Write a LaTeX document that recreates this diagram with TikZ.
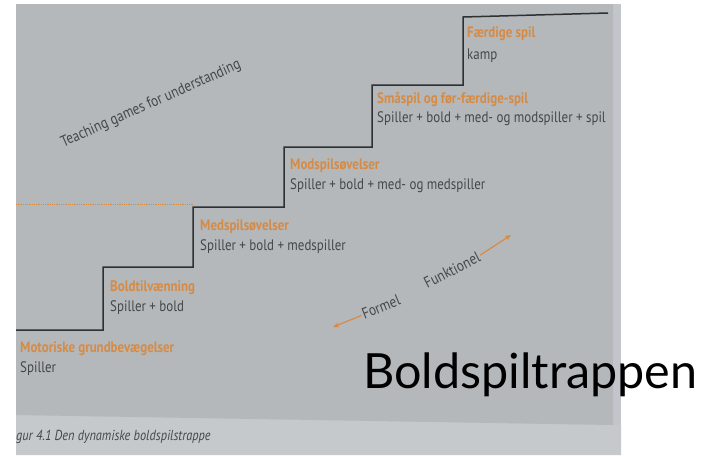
\documentclass[tikz,border=0pt]{standalone}
\usepackage{fontspec}
\setmainfont{PT Sans}[FakeStretch=0.85]
\newfontfamily\titlefont{Lato}
\usetikzlibrary{arrows.meta}
\definecolor{bgmain}{HTML}{B4B8BB}
\definecolor{bgstrip}{HTML}{C6C9CC}
\definecolor{bgedge}{HTML}{C2C5C9}
\definecolor{stepor}{HTML}{D68B45}
\definecolor{steptx}{HTML}{45484B}
\definecolor{stairln}{HTML}{2E3032}
\tikzset{
  headtx/.style={anchor=base west, inner sep=0pt, text=stepor, font=\fontsize{15.2}{17}\selectfont\bfseries},
  subtx/.style={anchor=base west, inner sep=0pt, text=steptx, font=\fontsize{15.2}{17}\selectfont},
  slanttx/.style={inner sep=0pt, text=steptx, font=\fontsize{15.6}{17}\selectfont},
  orarrow/.style={draw=stepor, line width=1.2pt, -{Stealth[length=6pt,width=5pt]}},
}
\begin{document}
\begin{tikzpicture}[x=1pt,y=-1pt]
\useasboundingbox (0,0) rectangle (711,455);
\fill[white] (0,0) rectangle (711,455);
% photo background
\fill[bgedge] (16,4) rectangle (621,455);
\fill[bgstrip] (16,415) -- (613,425) -- (621,425) -- (621,455) -- (16,455) -- cycle;
\fill[bgmain] (16,4) -- (613,4) -- (613,425) -- (16,415) -- cycle;
% dotted line
\draw[stepor, densely dotted, line width=0.8pt] (16,204) -- (193,204);
% staircase
\coordinate (s0) at (16,330);
\coordinate (s1) at (103,330);
\coordinate (s2) at (103,267);
\coordinate (s3) at (193,267);
\coordinate (s4) at (193,207);
\coordinate (s5) at (284,207);
\coordinate (s6) at (284,147);
\coordinate (s7) at (372,147);
\coordinate (s8) at (372,85);
\coordinate (s9) at (463,85);
\coordinate (s10) at (463,17);
\coordinate (s11) at (608,13);
\draw[stairln, line width=1.5pt] (s0) -- (s1) -- (s2) -- (s3) -- (s4) -- (s5) -- (s6) -- (s7) -- (s8) -- (s9) -- (s10) -- (s11);
% step labels
\node[headtx] (h1) at (20,352) {Motoriske grundbevægelser};
\node[subtx] (t1) at (20,372) {Spiller};
\node[headtx] (h2) at (110,291) {Boldtilvænning};
\node[subtx] (t2) at (110,311) {Spiller + bold};
\node[headtx] (h3) at (200,230) {Medspilsøvelser};
\node[subtx] (t3) at (200,250) {Spiller + bold + medspiller};
\node[headtx] (h4) at (290,169) {Modspilsøvelser};
\node[subtx] (t4) at (290,189) {Spiller + bold + med- og medspiller};
\node[headtx] (h5) at (377,103) {Småspil og før-færdige-spil};
\node[subtx] (t5) at (377,122) {Spiller + bold + med- og modspiller + spil};
\node[headtx] (h6) at (467,37) {Færdige spil};
\node[subtx] (t6) at (467,59) {kamp};
% slanted texts
\node[slanttx, rotate=24] (tgfu) at (151,104) {Teaching games for understanding};
\node[slanttx, rotate=22] (formel) at (381,307) {Formel};
\node[slanttx, rotate=27] (funk) at (452,270) {Funktionel};
\coordinate (ftip) at (333,327);
\coordinate (ktip) at (511,235);
\draw[orarrow] (formel.west) ++(-1,1) -- (ftip);
\draw[orarrow] (funk.east) ++(1,-1) -- (ktip);
% caption
\node[anchor=base west, inner sep=0pt, text=steptx, font=\fontsize{14.5}{16}\selectfont\itshape] (cap) at (16,440) {gur 4.1 Den dynamiske boldspilstrappe};
% title
\node[anchor=base west, inner sep=0pt, text=black, font=\titlefont\fontsize{48.5}{58}\selectfont] (title) at (363,388) {Boldspiltrappen};
\end{tikzpicture}
\end{document}
